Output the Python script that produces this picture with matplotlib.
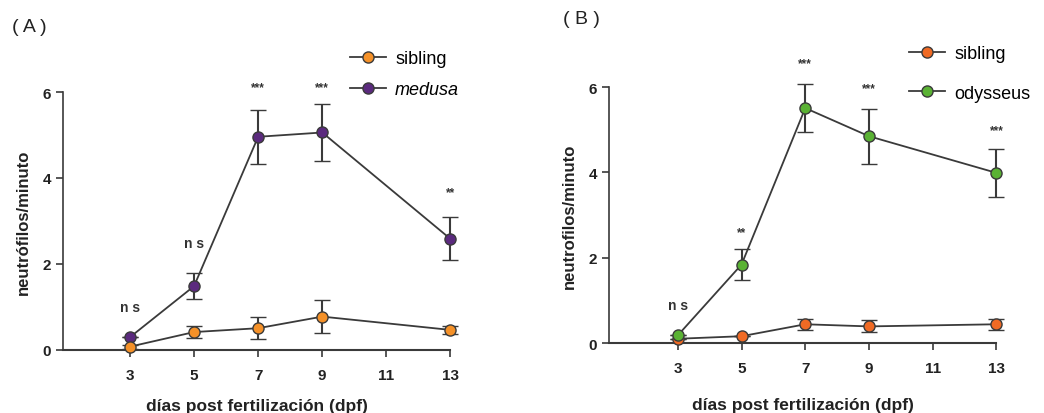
import numpy as np
import matplotlib
matplotlib.use("Agg")
import matplotlib.pyplot as plt
from matplotlib.lines import Line2D

plt.rcParams['font.family'] = ['Liberation Sans', 'DejaVu Sans']

# dias post fertilizacion
dpf = [3, 5, 7, 9, 13]
xticks = [3, 5, 7, 9, 11, 13]

# panel A: sibling vs medusa
sib_a = [0.07, 0.41, 0.50, 0.77, 0.46]
sib_a_err = [0.05, 0.15, 0.25, 0.38, 0.10]
med = [0.29, 1.48, 4.96, 5.06, 2.58]
med_err = [0.0, 0.30, 0.63, 0.67, 0.50]
sig_a = ['n s', 'n s', '***', '***', '**']
sig_a_y = [0.99, 2.48, 6.12, 6.12, 3.67]

# panel B: sibling vs odysseus
sib_b = [0.10, 0.16, 0.44, 0.39, 0.44]
sib_b_err = [0.0, 0.0, 0.13, 0.14, 0.13]
ody = [0.18, 1.84, 5.51, 4.85, 3.99]
ody_err = [0.0, 0.37, 0.56, 0.65, 0.56]
sig_b = ['n s', '**', '***', '***', '***']
sig_b_y = [0.90, 2.60, 6.56, 5.98, 5.00]

purple = '#5b2a7e'
orange_a = '#f59128'
orange_b = '#f06a24'
green = '#5ab234'
line_c = '#3a3a3a'

fig = plt.figure(figsize=(10.44, 4.14), dpi=100)
ax_a = fig.add_axes([0.060, 0.153, 0.373, 0.622])
ax_b = fig.add_axes([0.583, 0.169, 0.373, 0.618])


def draw_series(ax, y, err, color, z):
    ax.errorbar(dpf, y, yerr=err, color=line_c, lw=1.3, elinewidth=1.5,
                capsize=6, capthick=1.5, marker='o', markersize=8,
                markerfacecolor=color, markeredgecolor=line_c, markeredgewidth=1.0,
                zorder=z, clip_on=False)


def handle(color):
    return Line2D([], [], color=line_c, lw=1.3, marker='o', markersize=8,
                  markerfacecolor=color, markeredgecolor=line_c, markeredgewidth=1.0)


def style_axes(ax, ylabel, xmin, xpad):
    ax.set_xlim(xmin, 13.05)
    ax.set_ylim(0, 6)
    ax.set_xticks(xticks)
    ax.set_yticks([0, 2, 4, 6])
    for s in ['top', 'right']:
        ax.spines[s].set_visible(False)
    ax.spines['left'].set_linewidth(1.2)
    ax.spines['bottom'].set_linewidth(1.5)
    ax.spines['left'].set_color(line_c)
    ax.spines['bottom'].set_color(line_c)
    ax.spines['bottom'].set_bounds(xmin, 13)
    ax.tick_params(axis='both', direction='out', length=5, width=1.2, colors=line_c,
                   labelsize=11, labelcolor='#222222')
    ax.tick_params(axis='x', pad=8)
    for lab in ax.get_xticklabels() + ax.get_yticklabels():
        lab.set_fontweight('bold')
    ax.set_xlabel('días post fertilización (dpf)', fontsize=12.5, fontweight='bold',
                  color='#222222', labelpad=xpad)
    ax.set_ylabel(ylabel, fontsize=12, fontweight='bold', color='#222222', labelpad=8)


# panel A
draw_series(ax_a, med, med_err, purple, 3)
draw_series(ax_a, sib_a, sib_a_err, orange_a, 4)
style_axes(ax_a, 'neutrófilos/minuto', 0.9, 12)
for x, t, yy in zip(dpf, sig_a, sig_a_y):
    ax_a.text(x, yy, t, ha='center', va='center', fontsize=10 if 'n' in t else 8.5,
              fontweight='bold', color='#333333', clip_on=False)
leg_a = ax_a.legend([handle(orange_a), handle(purple)], ['sibling', 'medusa'],
                    loc='upper left', bbox_to_anchor=(341 / 1044, 1 - 42 / 414),
                    bbox_transform=fig.transFigure, frameon=False, fontsize=13,
                    handlelength=2.0, handletextpad=0.5, labelspacing=0.8, borderpad=0)
leg_a.get_texts()[1].set_fontstyle('italic')

# panel B
draw_series(ax_b, sib_b, sib_b_err, orange_b, 3)
draw_series(ax_b, ody, ody_err, green, 4)
style_axes(ax_b, 'neutrofilos/minuto', 0.83, 16)
for x, t, yy in zip(dpf, sig_b, sig_b_y):
    ax_b.text(x, yy, t, ha='center', va='center', fontsize=10 if 'n' in t else 8.5,
              fontweight='bold', color='#333333', clip_on=False)
ax_b.legend([handle(orange_b), handle(green)], ['sibling', 'odysseus'],
            loc='upper left', bbox_to_anchor=(900 / 1044, 1 - 37 / 414),
            bbox_transform=fig.transFigure, frameon=False, fontsize=13,
            handlelength=2.0, handletextpad=0.5, labelspacing=1.25, borderpad=0)

fig.text(12 / 1044, 1 - 27 / 414, '( A )', fontsize=14, va='center', ha='left', color='#222222')
fig.text(563 / 1044, 1 - 20 / 414, '( B )', fontsize=14, va='center', ha='left', color='#222222')

fig.savefig('out.png', dpi=100)
